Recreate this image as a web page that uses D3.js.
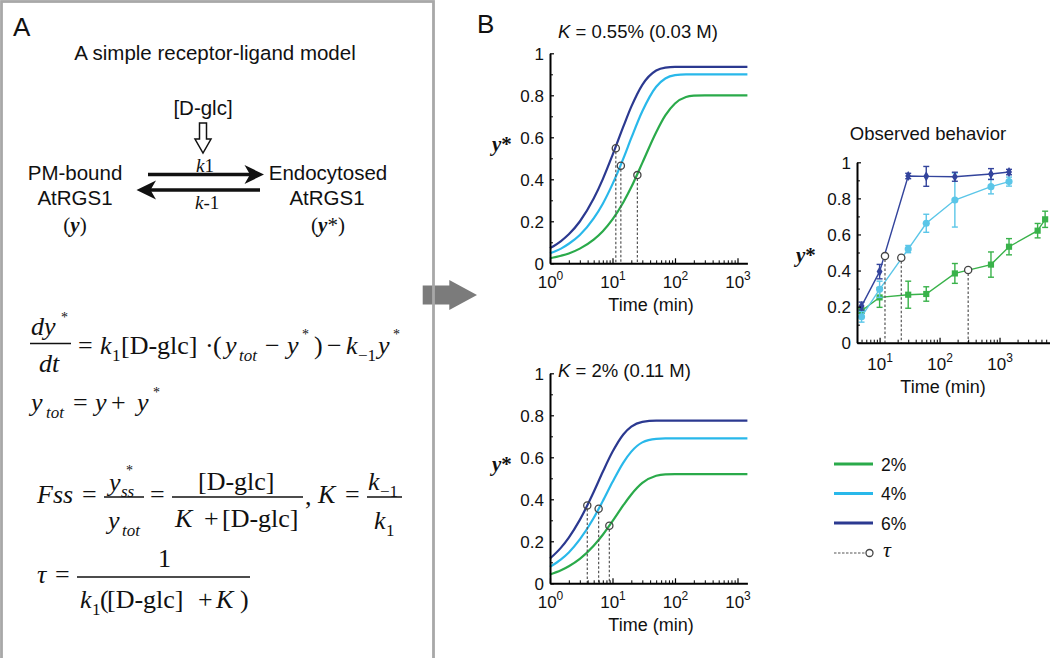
<!DOCTYPE html>
<html><head><meta charset="utf-8">
<script src="https://cdn.jsdelivr.net/npm/d3@7"></script>
<style>
body{margin:0;background:#fff;}
svg{display:block;font-family:"Liberation Sans",Arial,sans-serif;}
</style></head><body>
<svg id="fig" width="1050" height="658"></svg>
<script>
// ---------------- DATA ----------------
const modelTimes = [1,1.5,2,3,5,7,10,15,20,30,50,70,100,150,200,300,1440];
// K = 0.55% panel
const topY6 = [.072,.106,.138,.199,.308,.401,.515,.653,.746,.850,.918,.932,.935,.935,.935,.935,.935];
const topY4 = [.048,.070,.093,.135,.214,.284,.377,.501,.597,.724,.841,.880,.896,.900,.900,.900,.900];
const topY2 = [.024,.036,.047,.070,.113,.153,.209,.292,.363,.478,.624,.704,.761,.792,.798,.800,.800];
const topTauT = [11.3,13.6,25];
const topTauY = [.548,.465,.42];
// K = 2% panel
const botY6 = [.118,.170,.218,.302,.435,.531,.626,.710,.746,.769,.775,.775,.775,.775,.775,.775,.775];
const botY4 = [.078,.114,.147,.209,.311,.392,.482,.576,.627,.671,.688,.690,.690,.690,.690,.690,.690];
const botY2 = [.042,.062,.081,.116,.179,.231,.296,.373,.423,.478,.512,.519,.520,.520,.520,.520,.520];
const botTauT = [3.95,6.0,8.9];
const botTauY = [.371,.355,.274];
// Observed behavior
const obsT = [5,10,30,60,180,720,1440];
const obsT2 = [5,10,30,60,180,720,1440,4320,5760];
const obs6 = [.203,.394,.924,.922,.920,.935,.946];
const err6 = [.022,.040,.015,.055,.025,.030,.015];
const obs4 = [.144,.296,.519,.662,.791,.865,.893];
const err4 = [.030,.045,.020,.050,.150,.040,.025];
const obs2 = [.177,.251,.266,.270,.384,.433,.532,.621,.684];
const err2 = [.015,.055,.075,.040,.055,.070,.045,.040,.045];
const obsTauT = [12.3,23,300];
const obsTauY = [.48,.471,.403];
const legendLabels = ["2%","4%","6%"];
const yTickVals = [0,.2,.4,.6,.8,1];
const yMinorVals = [.1,.3,.5,.7,.9];
const xMajorVals = [1,10,100,1000];

// ---------------- STYLE ----------------
const C = {dark:"#2B3990", light:"#29B8EA", green:"#2AAA4A",
           oDark:"#33449C", oLight:"#5BC6E8", oGreen:"#39B24A", tau:"#555"};
const SERIF = '"Liberation Serif","Times New Roman",serif';

const svg = d3.select("#fig");

// ---------------- Panel A background arrow & frame ----------------
svg.append("path")
  .attr("d","M422.7,285.5 H449.3 V280 L477,295 L449.3,310 V304.5 H422.7 Z")
  .attr("fill","#7b7b7b");
svg.append("rect").attr("x",1.5).attr("y",1.5).attr("width",432).attr("height",670)
  .attr("fill","none").attr("stroke","#a8a8a8").attr("stroke-width",2.8);

function T(x,y,s,o={}){
  const t = svg.append("text").attr("x",x).attr("y",y).text(s)
    .attr("font-size",o.fs||20.5).attr("fill","#111");
  if(o.anchor) t.attr("text-anchor",o.anchor);
  if(o.serif) t.attr("font-family",SERIF);
  if(o.it) t.attr("font-style","italic");
  if(o.bold) t.attr("font-weight","bold");
  return t;
}
function P(x,y,s,style,fs){ // equation piece
  return T(x,y,s,{serif:true,it:style==="i",fs:fs||26});
}
function bar(x1,x2,y){
  svg.append("line").attr("x1",x1).attr("x2",x2).attr("y1",y).attr("y2",y)
    .attr("stroke","#111").attr("stroke-width",1.3);
}

T(13,36,"A",{fs:26});
T(215,60,"A simple receptor-ligand model",{anchor:"middle"});
T(203,115,"[D-glc]",{anchor:"middle"});
svg.append("path").attr("d","M199.5,123 H206.5 V139 H211 L203,153 L195,139 H199.5 Z")
  .attr("fill","#fff").attr("stroke","#111").attr("stroke-width",1.5);
// k1 label
{const t=T(196,171.5,"",{serif:true,fs:19});
 t.append("tspan").attr("font-style","italic").text("k");
 t.append("tspan").text("1");}
{const t=T(195,209,"",{serif:true,fs:19});
 t.append("tspan").attr("font-style","italic").text("k");
 t.append("tspan").text("-1");}
// reaction arrows
svg.append("line").attr("x1",148).attr("x2",251).attr("y1",174.5).attr("y2",174.5).attr("stroke","#111").attr("stroke-width",3.5);
svg.append("path").attr("d","M264,174.5 L244.5,165 L250,174.5 L244.5,184 Z").attr("fill","#111");
svg.append("line").attr("x1",150).attr("x2",260).attr("y1",190).attr("y2",190).attr("stroke","#111").attr("stroke-width",3.5);
svg.append("path").attr("d","M136.5,190 L156,180.5 L150.5,190 L156,199.5 Z").attr("fill","#111");
T(75,180,"PM-bound",{anchor:"middle"});
T(75,205,"AtRGS1",{anchor:"middle"});
{const t=T(75,232,"",{anchor:"middle",serif:true,fs:21});
 t.append("tspan").text("(");
 t.append("tspan").attr("font-style","italic").attr("font-weight","bold").text("y");
 t.append("tspan").text(")");}
T(328,180,"Endocytosed",{anchor:"middle"});
T(327,205,"AtRGS1",{anchor:"middle"});
{const t=T(328,232,"",{anchor:"middle",serif:true,fs:21});
 t.append("tspan").text("(");
 t.append("tspan").attr("font-style","italic").attr("font-weight","bold").text("y");
 t.append("tspan").text("*)");}

// Equation 1
P(31,335,"dy","i"); P(61,322,"*","n",14);
bar(30,71,343.5);
P(39,372,"dt","i");
P(78,354,"=","n");
P(100,354,"k","i"); P(112,361,"1","n",17);
P(121,354,"[D-glc]","n");
P(205,354,"·","n");
P(213,354,"(","n");
P(225,354,"y","i"); P(239,361,"tot","i",17);
P(265,354,"−","n");
P(287,354,"y","i"); P(302,339,"*","n",14);
P(314,354,")","n");
P(327,354,"−","n");
P(346,354,"k","i"); P(358,361,"−1","n",17);
P(378,354,"y","i"); P(393,339,"*","n",14);
// Equation 2
P(31,411,"y","i"); P(46,418,"tot","i",17);
P(73,411,"=","n"); P(95,411,"y","i"); P(111,411,"+","n");
P(137,411,"y","i"); P(153,397,"*","n",14);
// Equation 3
P(37,503,"Fss","i"); P(82,503,"=","n");
P(109,491,"y","i"); P(121,497,"ss","i",17); P(126,475,"*","n",14);
bar(104,144,497);
P(108,529,"y","i"); P(122,536,"tot","i",17);
P(150,503,"=","n");
P(198,490,"[D-glc]","n");
bar(172,303,497);
P(175,527,"K","i"); P(204,527,"+","n"); P(222,527,"[D-glc]","n");
P(305,505,",","n");
P(318,503,"K","i"); P(345,503,"=","n");
P(368,490,"k","i"); P(380,497,"−1","n",17);
bar(367,402,497);
P(374,529,"k","i"); P(386,536,"1","n",17);
// Equation 4
P(37,583,"τ","i"); P(55,583,"=","n");
P(158,567,"1","n");
bar(77,250,577);
P(80,608,"k","i"); P(92,615,"1","n",17);
P(100,608,"(","n"); P(107,608,"[D-glc]","n");
P(198,608,"+","n"); P(216,608,"K","i"); P(240,608,")","n");

// ---------------- Panel B ----------------
T(477,33,"B",{fs:26});

const rows = (ts,vs)=>ts.map((t,i)=>({t,v:vs[i]}));

function logXAxis(g,x,y0,majors,minors,labelY){
  const ax = g.append("g").attr("transform",`translate(0,${y0})`)
    .call(d3.axisBottom(x).tickValues(majors).tickSizeInner(-5).tickSizeOuter(0).tickFormat(""));
  ax.select(".domain").attr("stroke","#000").attr("stroke-width",2);
  ax.selectAll(".tick line").attr("stroke","#000").attr("stroke-width",1.2);
  ax.selectAll(".tick text").remove();
  const lab = ax.selectAll(".tick").append("text").attr("y",labelY).attr("text-anchor","middle")
    .attr("fill","#111").attr("font-size",17).attr("font-family","Liberation Sans, Arial, sans-serif");
  lab.append("tspan").text("10");
  lab.append("tspan").attr("dy",-8).attr("font-size",12).text(d=>String(Math.round(Math.log10(d))));
  const mn = g.append("g").attr("transform",`translate(0,${y0})`)
    .call(d3.axisBottom(x).tickValues(minors).tickSizeInner(-3).tickSizeOuter(0).tickFormat(""));
  mn.select(".domain").remove();
  mn.selectAll(".tick line").attr("stroke","#000").attr("stroke-width",1);
}
function linYAxis(g,y,x0){
  const ay = g.append("g").attr("transform",`translate(${x0},0)`)
    .call(d3.axisLeft(y).tickValues(yTickVals).tickSizeInner(-4).tickSizeOuter(0).tickPadding(6)
      .tickFormat(d=> d===0?"0":d===1?"1":d3.format(".1f")(d)));
  ay.select(".domain").attr("stroke","#000").attr("stroke-width",2);
  ay.selectAll(".tick line").attr("stroke","#000").attr("stroke-width",1.2);
  ay.selectAll(".tick text").attr("font-size",17).attr("fill","#111")
    .attr("font-family","Liberation Sans, Arial, sans-serif").attr("dy","0.36em");
  const mn = g.append("g").attr("transform",`translate(${x0},0)`)
    .call(d3.axisLeft(y).tickValues(yMinorVals).tickSizeInner(-3).tickSizeOuter(0).tickFormat(""));
  mn.select(".domain").remove();
  mn.selectAll(".tick line").attr("stroke","#000").attr("stroke-width",1);
}
function yStarLabel(x,y){
  const t = T(x,y,"",{serif:true,fs:21});
  t.append("tspan").attr("font-style","italic").attr("font-weight","bold").text("y");
  t.append("tspan").attr("font-weight","bold").text("*");
}
function minorList(lo,hi){
  const out=[];
  for(let d=1; d<=10000; d*=10) for(let k=2;k<=9;k++){const v=k*d; if(v>lo && v<hi) out.push(v);}
  return out;
}

function modelPanel(cfg){
  const g = svg.append("g");
  const x = d3.scaleLog().domain([1,1440]).range([550,747.4]);
  const y = d3.scaleLinear().domain([0,1]).range([cfg.y0, cfg.y0-210]);
  const line = d3.line().x(d=>x(d.t)).y(d=>y(d.v)).curve(d3.curveMonotoneX);
  const series = [
    {vals:cfg.s6,color:C.dark},{vals:cfg.s4,color:C.light},{vals:cfg.s2,color:C.green}];
  g.selectAll("path.curve").data(series).join("path").attr("class","curve")
    .attr("d",s=>line(rows(modelTimes,s.vals))).attr("fill","none")
    .attr("stroke",s=>s.color).attr("stroke-width",2.2);
  const tau = rows(cfg.tauT,cfg.tauY);
  g.selectAll("line.tau").data(tau).join("line").attr("class","tau")
    .attr("x1",d=>x(d.t)).attr("x2",d=>x(d.t)).attr("y1",d=>y(d.v)+3.5).attr("y2",y(0))
    .attr("stroke",C.tau).attr("stroke-width",1.2).attr("stroke-dasharray","2.5,2");
  g.selectAll("circle.tau").data(tau).join("circle").attr("class","tau")
    .attr("cx",d=>x(d.t)).attr("cy",d=>y(d.v)).attr("r",3.6)
    .attr("fill","none").attr("stroke","#444").attr("stroke-width",1.3);
  logXAxis(g,x,cfg.y0,xMajorVals,minorList(1,1440),25);
  linYAxis(g,y,550);
  const tt = T(558,cfg.titleY,"",{fs:18.5});
  tt.append("tspan").attr("font-style","italic").text("K");
  tt.append("tspan").text(cfg.title);
  T(651,cfg.y0+48,"Time (min)",{anchor:"middle",fs:18});
  yStarLabel(492,cfg.y0-112);
}
modelPanel({y0:263.3,s6:topY6,s4:topY4,s2:topY2,tauT:topTauT,tauY:topTauY,title:" = 0.55% (0.03 M)",titleY:38});
modelPanel({y0:583.3,s6:botY6,s4:botY4,s2:botY2,tauT:botTauT,tauY:botTauY,title:" = 2% (0.11 M)",titleY:377});

// ---------------- Observed behavior ----------------
{
  const g = svg.append("g");
  const x = d3.scaleLog().domain([4.2,7500]).range([857,1052]);
  const y = d3.scaleLinear().domain([0,1]).range([342.7,162.3]);
  const line = d3.line().x(d=>x(d.t)).y(d=>y(d.v));
  const obs = [
    {t:obsT2,v:obs2,e:err2,color:C.oGreen,shape:"square"},
    {t:obsT,v:obs4,e:err4,color:C.oLight,shape:"circle"},
    {t:obsT,v:obs6,e:err6,color:C.oDark,shape:"diamond"}];
  obs.forEach(s=>{
    const pts = s.t.map((t,i)=>({t,v:s.v[i],e:s.e[i]}));
    g.append("path").attr("d",line(pts)).attr("fill","none").attr("stroke",s.color).attr("stroke-width",1.4);
    const eb = g.append("g").attr("stroke",s.color).attr("stroke-width",1.4);
    eb.selectAll("line.v").data(pts).join("line").attr("class","v")
      .attr("x1",d=>x(d.t)).attr("x2",d=>x(d.t)).attr("y1",d=>y(d.v-d.e)).attr("y2",d=>y(d.v+d.e));
    eb.selectAll("line.lo").data(pts).join("line").attr("class","lo")
      .attr("x1",d=>x(d.t)-3).attr("x2",d=>x(d.t)+3).attr("y1",d=>y(d.v-d.e)).attr("y2",d=>y(d.v-d.e));
    eb.selectAll("line.hi").data(pts).join("line").attr("class","hi")
      .attr("x1",d=>x(d.t)-3).attr("x2",d=>x(d.t)+3).attr("y1",d=>y(d.v+d.e)).attr("y2",d=>y(d.v+d.e));
    const sym = s.shape==="square"? d3.symbol(d3.symbolSquare,38)
              : s.shape==="circle"? d3.symbol(d3.symbolCircle,40)
              : d3.symbol(d3.symbolDiamond,30);
    g.selectAll(null).data(pts).join("path")
      .attr("transform",d=>`translate(${x(d.t)},${y(d.v)})`).attr("d",sym()).attr("fill",s.color);
  });
  const tau = rows(obsTauT,obsTauY);
  g.selectAll("line.tau").data(tau).join("line").attr("class","tau")
    .attr("x1",d=>x(d.t)).attr("x2",d=>x(d.t)).attr("y1",d=>y(d.v)+3.5).attr("y2",y(0))
    .attr("stroke",C.tau).attr("stroke-width",1.2).attr("stroke-dasharray","2.5,2");
  g.selectAll("circle.tau").data(tau).join("circle").attr("class","tau")
    .attr("cx",d=>x(d.t)).attr("cy",d=>y(d.v)).attr("r",3.6)
    .attr("fill","#fff").attr("stroke","#444").attr("stroke-width",1.3);
  logXAxis(g,x,342.7,[10,100,1000],minorList(4.2,7500),27);
  linYAxis(g,y,857);
  T(928,140,"Observed behavior",{anchor:"middle",fs:18.5});
  T(943,393,"Time (min)",{anchor:"middle",fs:18});
  yStarLabel(796,262);
}

// ---------------- Legend ----------------
{
  const g = svg.append("g");
  const cols = [C.green,C.light,C.dark];
  const ys = [464,493.5,523];
  g.selectAll("line.leg").data(legendLabels).join("line").attr("class","leg")
    .attr("x1",834).attr("x2",873).attr("y1",(d,i)=>ys[i]).attr("y2",(d,i)=>ys[i])
    .attr("stroke",(d,i)=>cols[i]).attr("stroke-width",2.8);
  g.selectAll("text.leg").data(legendLabels).join("text").attr("class","leg")
    .attr("x",881).attr("y",(d,i)=>ys[i]+6.5).attr("font-size",17.5).attr("fill","#111").text(d=>d);
  g.append("line").attr("x1",834).attr("x2",866).attr("y1",553).attr("y2",553)
    .attr("stroke",C.tau).attr("stroke-width",1.2).attr("stroke-dasharray","2.5,1.5");
  g.append("circle").attr("cx",869.5).attr("cy",553).attr("r",3.5)
    .attr("fill","#fff").attr("stroke","#444").attr("stroke-width",1.3);
  T(883,557,"τ",{serif:true,it:true,fs:22});
}
</script>
</body></html>
